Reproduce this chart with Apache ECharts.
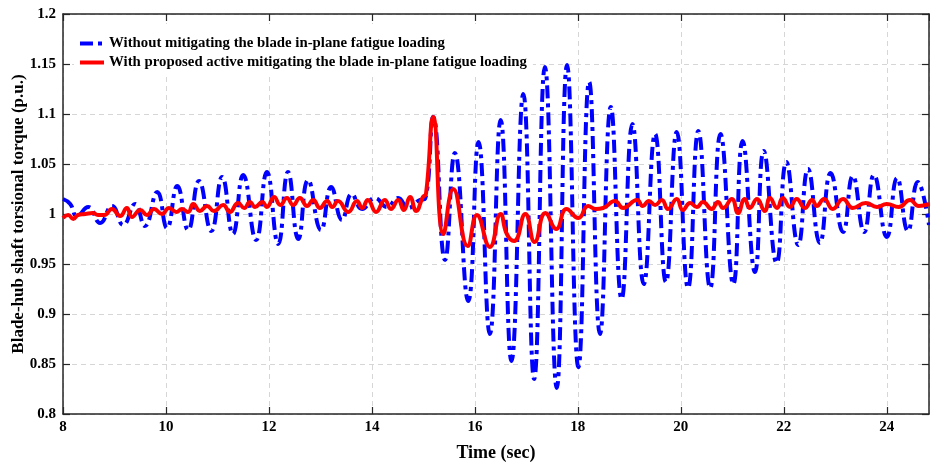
<!DOCTYPE html>
<html>
<head>
<meta charset="utf-8">
<script src="https://cdn.jsdelivr.net/npm/echarts@6/dist/echarts.min.js"></script>
<style>
  html, body { margin: 0; padding: 0; background: #fff; }
  #chart { width: 930px; height: 462px; }
</style>
</head>
<body>
<div id="chart"></div>
<script>
// Torque response, without mitigation (peaks / troughs of the oscillation)
const baseTime = [
  8.00, 8.14, 8.27, 8.49, 8.72, 8.95, 9.17, 9.40, 9.59, 9.83,
  10.02, 10.22, 10.43, 10.64, 10.88, 11.09, 11.30, 11.50, 11.75, 11.96,
  12.18, 12.37, 12.57, 12.76, 13.01, 13.21, 13.42, 13.61, 13.81, 14.06,
  14.29, 14.51, 14.70, 14.93, 15.03, 15.19, 15.42, 15.61, 15.87, 16.07,
  16.29, 16.50, 16.71, 16.94, 17.15, 17.36, 17.59, 17.79, 18.01, 18.22,
  18.43, 18.64, 18.85, 19.06, 19.28, 19.50, 19.71, 19.92, 20.14, 20.34,
  20.57, 20.77, 21.02, 21.20, 21.44, 21.61, 21.86, 22.05, 22.28, 22.47,
  22.70, 22.91, 23.15, 23.34, 23.56, 23.75, 24.00, 24.20, 24.41, 24.60,
  24.82
];
const baseTorque = [
  1.015, 1.010, 0.998, 1.007, 0.991, 1.008, 0.989, 1.010, 0.988, 1.022,
  0.986, 1.028, 0.984, 1.033, 0.983, 1.037, 0.980, 1.039, 0.974, 1.042,
  0.970, 1.042, 0.975, 1.034, 0.984, 1.027, 0.994, 1.020, 1.005, 1.016,
  1.007, 1.016, 1.006, 1.014, 1.015, 1.097, 0.954, 1.061, 0.913, 1.072,
  0.880, 1.094, 0.853, 1.120, 0.835, 1.147, 0.826, 1.149, 0.847, 1.132,
  0.880, 1.107, 0.915, 1.090, 0.930, 1.080, 0.932, 1.082, 0.926, 1.083,
  0.926, 1.080, 0.930, 1.073, 0.942, 1.063, 0.951, 1.052, 0.969, 1.045,
  0.971, 1.041, 0.982, 1.038, 0.982, 1.039, 0.977, 1.036, 0.983, 1.032,
  0.989
];

// Torque response with the proposed active mitigation
const mitTime = [
  8.00, 8.10, 8.20, 8.29, 8.43, 8.58, 8.68, 8.80, 8.95, 9.11,
  9.24, 9.34, 9.50, 9.63, 9.77, 9.92, 10.06, 10.20, 10.31, 10.43,
  10.53, 10.66, 10.80, 10.93, 11.11, 11.24, 11.40, 11.52, 11.63, 11.73,
  11.87, 11.96, 12.10, 12.22, 12.35, 12.47, 12.60, 12.74, 12.86, 12.99,
  13.13, 13.23, 13.34, 13.54, 13.71, 13.81, 13.92, 14.08, 14.25, 14.37,
  14.51, 14.62, 14.74, 14.86, 14.99, 15.05, 15.19, 15.39, 15.58, 15.86,
  16.04, 16.29, 16.50, 16.62, 16.76, 16.98, 17.16, 17.37, 17.58, 17.78,
  18.01, 18.20, 18.35, 18.49, 18.72, 18.88, 19.15, 19.26, 19.38, 19.50,
  19.63, 19.75, 19.92, 20.04, 20.18, 20.31, 20.43, 20.60, 20.72, 20.82,
  20.99, 21.11, 21.24, 21.34, 21.48, 21.63, 21.73, 21.87, 21.98, 22.12,
  22.25, 22.41, 22.55, 22.64, 22.78, 22.95, 23.15, 23.34, 23.59, 23.81,
  24.00, 24.23, 24.45, 24.62, 24.82
];
const mitTorque = [
  0.996, 0.999, 0.995, 0.999, 1.000, 1.001, 0.999, 0.999, 1.005, 0.998,
  1.006, 0.997, 1.004, 0.999, 1.005, 1.000, 1.006, 1.002, 1.005, 1.002,
  1.010, 1.003, 1.008, 1.003, 1.009, 1.002, 1.011, 1.006, 1.012, 1.007,
  1.012, 1.007, 1.017, 1.009, 1.016, 1.009, 1.016, 1.008, 1.014, 1.006,
  1.013, 1.007, 1.013, 1.002, 1.013, 1.006, 1.014, 1.002, 1.014, 1.005,
  1.014, 1.004, 1.017, 1.003, 1.017, 1.020, 1.097, 0.980, 1.025, 0.968,
  0.999, 0.967, 1.000, 0.980, 0.973, 1.000, 0.972, 1.001, 0.985, 1.005,
  0.996, 1.008, 1.005, 1.006, 1.013, 1.006, 1.014, 1.008, 1.013, 1.009,
  1.014, 1.005, 1.015, 1.004, 1.011, 1.007, 1.012, 1.005, 1.012, 1.006,
  1.015, 1.001, 1.015, 1.006, 1.015, 1.003, 1.016, 1.006, 1.016, 1.007,
  1.015, 1.006, 1.014, 1.008, 1.015, 1.005, 1.015, 1.006, 1.011, 1.007,
  1.010, 1.007, 1.014, 1.008, 1.010
];

const xTicks = { min: 8, max: 24.82, step: 2 };
const yTicks = { min: 0.8, max: 1.2, step: 0.05 };

const seriesNames = [
  'Without mitigating the blade in-plane fatigue loading',
  'With proposed active mitigating the blade in-plane fatigue loading'
];

const zip = (xs, ys) => xs.map((x, i) => [x, ys[i]]);

const FONT = '"Liberation Serif", "Times New Roman", serif';
const AXIS_COLOR = '#262626';
const GRID_COLOR = '#d6d6d6';

const chart = echarts.init(document.getElementById('chart'), null, { renderer: 'canvas' });

const frameX = (pos) => ({
  type: 'value', position: pos, min: xTicks.min, max: xTicks.max, interval: xTicks.step,
  axisLine: { show: true, onZero: false, lineStyle: { color: AXIS_COLOR, width: 1.5 } },
  axisTick: { show: true, inside: true, length: 7, lineStyle: { color: AXIS_COLOR, width: 1.2 } },
  axisLabel: { show: false },
  splitLine: { show: false }
});
const frameY = (pos) => ({
  type: 'value', position: pos, min: yTicks.min, max: yTicks.max, interval: yTicks.step,
  axisLine: { show: true, onZero: false, lineStyle: { color: AXIS_COLOR, width: 1.5 } },
  axisTick: { show: true, inside: true, length: 7, lineStyle: { color: AXIS_COLOR, width: 1.2 } },
  axisLabel: { show: false },
  splitLine: { show: false }
});

const xMain = Object.assign(frameX('bottom'), {
  name: 'Time (sec)',
  nameLocation: 'middle',
  nameGap: 30,
  nameMoveOverlap: false,
  nameTextStyle: { fontFamily: FONT, fontWeight: 'bold', fontSize: 18, color: '#000' },
  axisLabel: {
    show: true, margin: 6, showMaxLabel: false,
    fontFamily: FONT, fontWeight: 'bold', fontSize: 15, color: '#000',
    formatter: (v) => (Math.abs(v / 2 - Math.round(v / 2)) < 1e-6 ? String(Math.round(v)) : '')
  },
  splitLine: { show: true, lineStyle: { color: GRID_COLOR, width: 1, type: [5, 4] } }
});

const yMain = Object.assign(frameY('left'), {
  name: 'Blade-hub shaft torsional torque (p.u.)',
  nameLocation: 'middle',
  nameGap: 36,
  nameMoveOverlap: false,
  nameTextStyle: { fontFamily: FONT, fontWeight: 'bold', fontSize: 17, color: '#000' },
  axisLabel: {
    show: true, margin: 7,
    fontFamily: FONT, fontWeight: 'bold', fontSize: 15, color: '#000',
    formatter: (v) => String(parseFloat(v.toFixed(2)))
  },
  splitLine: { show: true, lineStyle: { color: GRID_COLOR, width: 1, type: [5, 4] } }
});

chart.setOption({
  animation: false,
  backgroundColor: '#fff',
  grid: { left: 63, right: 1, top: 14, bottom: 48, containLabel: false, outerBoundsMode: 'none' },
  xAxis: [xMain, frameX('top')],
  yAxis: [yMain, frameY('right')],
  legend: {
    orient: 'vertical',
    left: 74,
    top: 24,
    padding: [12, 6, 5, 4],
    backgroundColor: '#fff',
    itemWidth: 24,
    itemHeight: 14,
    itemGap: 4,
    // line-only legend keys
    itemStyle: { opacity: 0, borderWidth: 0 },
    lineStyle: { width: 4 },
    textStyle: { fontFamily: FONT, fontWeight: 'bold', fontSize: 14.8, color: '#000' },
    data: seriesNames
  },
  series: [
    {
      name: seriesNames[0],
      type: 'line',
      xAxisIndex: 0, yAxisIndex: 0,
      data: zip(baseTime, baseTorque),
      smooth: 0.5,
      showSymbol: false,
      symbol: 'none',
      lineStyle: { color: '#0000ff', width: 4, type: [13, 5, 4, 5] },
      itemStyle: { color: '#0000ff' },
      z: 2
    },
    {
      name: seriesNames[1],
      type: 'line',
      xAxisIndex: 0, yAxisIndex: 0,
      data: zip(mitTime, mitTorque),
      smooth: 0.5,
      showSymbol: false,
      symbol: 'none',
      lineStyle: { color: '#ff0000', width: 4, type: 'solid' },
      itemStyle: { color: '#ff0000' },
      z: 3
    }
  ]
});
</script>
</body>
</html>
